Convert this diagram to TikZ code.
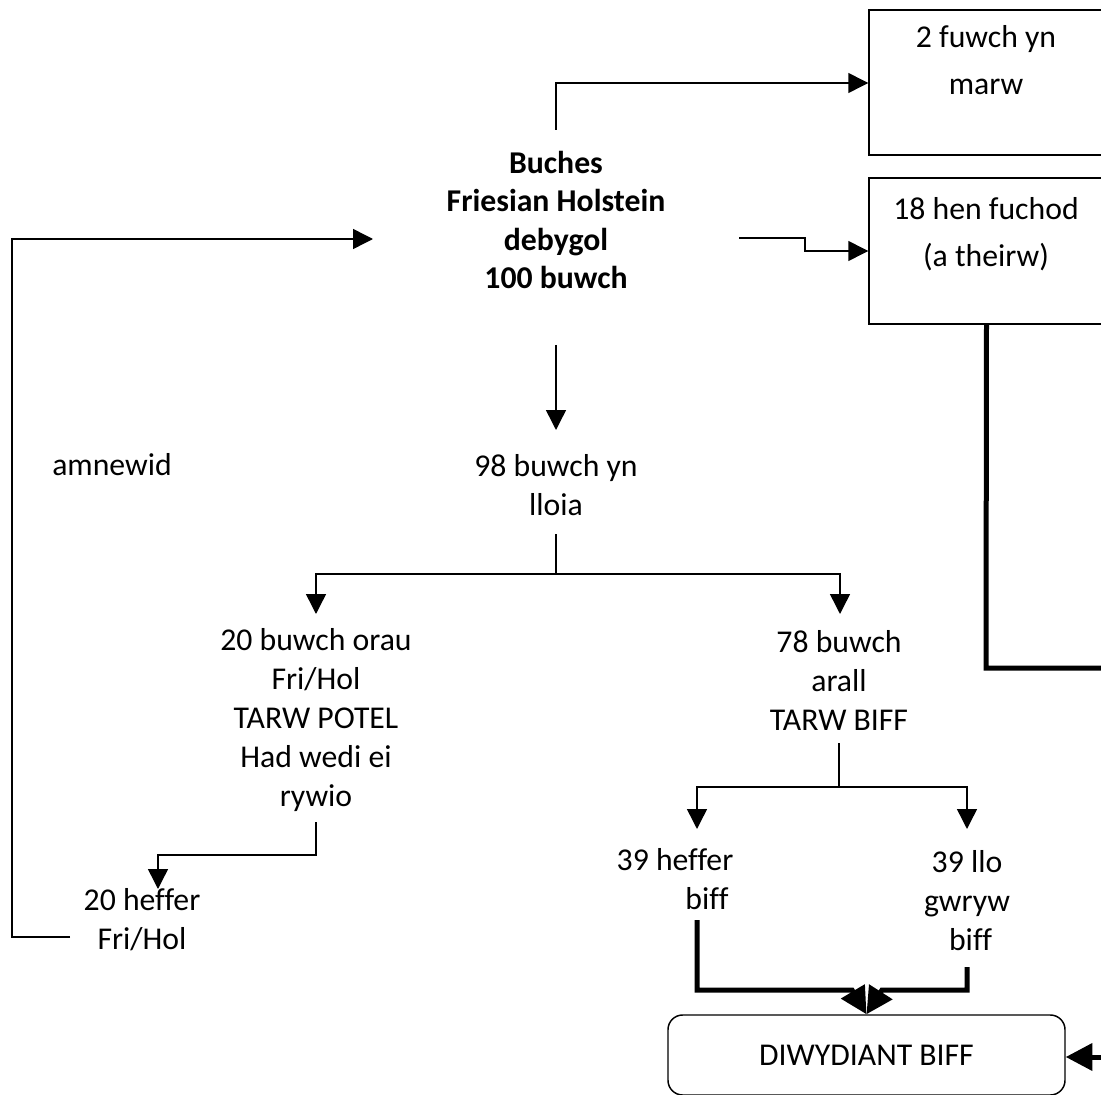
\documentclass[tikz,border=0pt]{standalone}
\usepackage{fontspec}
\setmainfont[Ligatures={NoCommon}]{Carlito}
\usetikzlibrary{arrows.meta}
\begin{document}
\begin{tikzpicture}[x=0.75pt,y=-0.75pt,
  txt/.style={font=\fontsize{23.8}{29.25}\selectfont, align=center, inner sep=0pt},
  btxt/.style={font=\fontsize{23.8}{28.75}\selectfont\bfseries, align=center, inner sep=0pt},
  boxtxt/.style={font=\fontsize{23.8}{35.25}\selectfont, align=center, inner sep=0pt},
  ln/.style={line width=1.1pt},
  arr/.style={ln, -{Triangle[length=15pt,width=15pt]}},
  thk/.style={line width=3.75pt},
  tarr/.style={thk, -{Triangle[length=20pt,width=20pt]}},
  sqbox/.style={draw, line width=1.1pt, minimum width=176.25pt, minimum height=108.75pt, inner sep=0pt},
]
\path[use as bounding box] (0,0) rectangle (1101,1095);
\clip (0,0) rectangle (1101,1095);

% boxes on the right
\node[sqbox] (box1) at (986.5,82.5) {};
\node[boxtxt] (t1) at (986,60) {2 fuwch yn\\marw};
\node[sqbox, minimum height=109.5pt] (box2) at (986.5,251) {};
\node[boxtxt] (t2) at (986,234) {18 hen fuchod\\(a theirw)};

% text nodes
\node[btxt] (herd) at (556,220) {Buches\\Friesian Holstein\\debygol\\100 buwch};
\node[txt] (calve) at (556,485) {98 buwch yn\\lloia};
\node[txt] (amn) at (112,465) {amnewid};
\node[txt] (best) at (316,720) {20 buwch orau\\Fri/Hol\\TARW POTEL\\Had wedi ei\\rywio};
\node[txt] (other) at (839,680) {78 buwch\\arall\\TARW BIFF};
\node[txt] (hbiff) at (675,879) {39 heffer\\\hspace*{48pt}biff};
\node[txt] (lbiff) at (967,901) {39 llo\\gwryw\\\ biff};
\node[txt] (hfri) at (142,920) {20 heffer\\Fri/Hol};
\node[draw, ln, rounded corners=11pt, minimum width=297.75pt, minimum height=60pt,
      font=\fontsize{23.8}{29.25}\selectfont, inner sep=0pt] (diw) at (866.5,1055) {DIWYDIANT BIFF};

% connectors from the herd
\coordinate (h1) at (556,130);
\coordinate (h1b) at (556,83);
\draw[arr] (h1) -- (h1b) -- (h1b -| box1.west);

\coordinate (h2) at (739,238);
\coordinate (h2a) at (805,238);
\coordinate (h2b) at (805,251);
\draw[arr] (h2) -- (h2a) -- (h2b) -- (h2b -| box2.west);

\coordinate (h3) at (556,345);
\coordinate (h3b) at (556,430);
\draw[arr] (h3) -- (h3b);

% split of calving cows
\coordinate (c1) at (556,534);
\coordinate (c2) at (556,574);
\coordinate (c3) at (316,614);
\coordinate (c4) at (840,614);
\draw[ln] (c1) -- (c2);
\draw[arr] (c2) -| (c3);
\draw[arr] (c2) -| (c4);

% split of other cows
\coordinate (o1) at (839,743);
\coordinate (o2) at (839,787);
\coordinate (o3) at (697,829);
\coordinate (o4) at (967,829);
\draw[ln] (o1) -- (o2);
\draw[arr] (o2) -| (o3);
\draw[arr] (o2) -| (o4);

% best cows to heifers
\coordinate (b1) at (316,822);
\coordinate (b2) at (316,855);
\coordinate (b3) at (158,889);
\draw[arr] (b1) -- (b2) -| (b3);

% replacement loop
\coordinate (f1) at (70,937);
\coordinate (f2) at (12,937);
\coordinate (f3) at (12,239);
\coordinate (f4) at (373,239);
\draw[arr] (f1) -- (f2) -- (f3) -- (f4);

% thick connectors to beef industry
\coordinate (k1) at (697,920);
\coordinate (k2) at (697,990);
\coordinate (k3) at (852,990);
\draw[tarr] (k1) -- (k2) -- (k3) -- (diw.north);

\coordinate (m1) at (967,967);
\coordinate (m2) at (967,990);
\coordinate (m3) at (882,990);
\draw[tarr] (m1) -- (m2) -- (m3) -- (diw.north);

\coordinate (r1) at (986,668);
\coordinate (r2) at (1110,668);
\draw[thk] (box2.south) -- (r1) -- (r2);

\coordinate (r3) at (1110,1057);
\draw[tarr] (r3) -- (r3 -| diw.east);
\end{tikzpicture}
\end{document}
